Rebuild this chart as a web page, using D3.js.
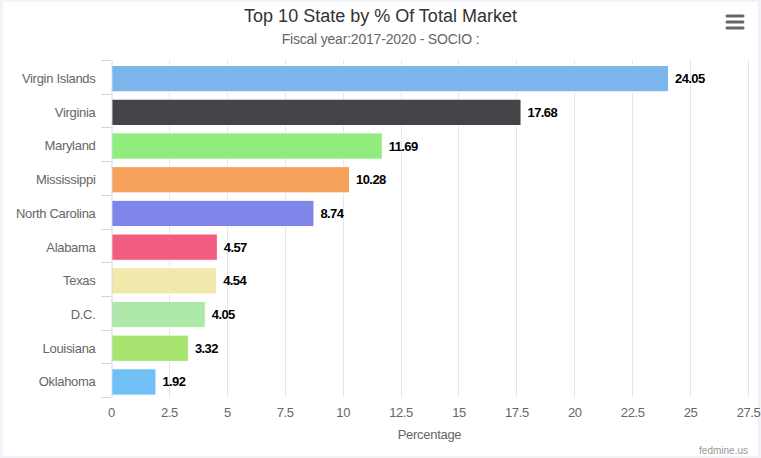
<!DOCTYPE html>
<html>
<head>
<meta charset="utf-8">
<script src="https://cdn.jsdelivr.net/npm/d3@7"></script>
<style>
  body { margin: 0; background: #fff; }
  svg { display: block; font-family: "Liberation Sans", Arial, sans-serif; }
</style>
</head>
<body>
<figure id="bar-chart" style="margin:0"></figure>
<script>
const states = ['Virgin Islands', 'Virginia', 'Maryland', 'Mississippi', 'North Carolina',
  'Alabama', 'Texas', 'D.C.', 'Louisiana', 'Oklahoma'];
const percents = [24.05, 17.68, 11.69, 10.28, 8.74, 4.57, 4.54, 4.05, 3.32, 1.92];
const barColors = ['#7cb5ec', '#434348', '#90ed7d', '#f7a35c', '#8085e9',
  '#f15c80', '#f1e9ac', '#ade8a8', '#a8e46f', '#70c0f5'];
const xTickValues = [0, 2.5, 5, 7.5, 10, 12.5, 15, 17.5, 20, 22.5, 25, 27.5];

const width = 761, height = 458;
const plot = { left: 111, right: 748, top: 60, bottom: 397 };

const svg = d3.select('figure#bar-chart')
  .append('svg')
  .attr('width', width)
  .attr('height', height);

// light frame round the chart
svg.append('rect')
  .attr('x', 1.5).attr('y', 0.5)
  .attr('width', width - 3).attr('height', height - 1)
  .attr('fill', '#fff')
  .attr('stroke', '#f2f3f7')
  .attr('stroke-width', 3);

const x = d3.scaleLinear().domain([0, 27.5]).range([plot.left, plot.right]);
const yBand = d3.scaleBand().domain(states).range([plot.top, plot.bottom]);
const barH = yBand.bandwidth() * 0.78;
const barY = d => yBand(d) + 5.5;

// title + subtitle
svg.append('text')
  .attr('x', width / 2).attr('y', 22)
  .attr('text-anchor', 'middle')
  .attr('font-size', 18).attr('fill', '#333')
  .text('Top 10 State by % Of Total Market');
svg.append('text')
  .attr('x', width / 2).attr('y', 44)
  .attr('text-anchor', 'middle')
  .attr('font-size', 14).attr('fill', '#666')
  .attr('letter-spacing', -0.2)
  .text('Fiscal year:2017-2020 - SOCIO :');

// menu icon
[16, 22, 28].forEach(yy => {
  svg.append('line')
    .attr('x1', 727).attr('x2', 743)
    .attr('y1', yy).attr('y2', yy)
    .attr('stroke', '#666').attr('stroke-width', 3)
    .attr('stroke-linecap', 'round');
});

// vertical grid
svg.append('g')
  .selectAll('line')
  .data(xTickValues.slice(1))
  .enter()
  .append('line')
  .attr('x1', d => Math.round(x(d)) + 0.5)
  .attr('x2', d => Math.round(x(d)) + 0.5)
  .attr('y1', plot.top)
  .attr('y2', plot.bottom)
  .attr('stroke', '#e6e6e6');

// bars
svg.selectAll('.bar')
  .data(states)
  .enter()
  .append('rect')
  .attr('class', 'bar')
  .attr('x', x(0) + 0.5)
  .attr('y', barY)
  .attr('width', (d, i) => x(percents[i]) - x(0))
  .attr('height', barH)
  .attr('fill', (d, i) => barColors[i])
  .attr('stroke', '#fff')
  .attr('stroke-width', 1);

// value labels
svg.selectAll('.value')
  .data(states)
  .enter()
  .append('text')
  .attr('class', 'value')
  .attr('x', (d, i) => x(percents[i]) + 7)
  .attr('y', d => barY(d) + barH / 2 + 4.5)
  .attr('font-size', 13).attr('font-weight', 'bold')
  .attr('letter-spacing', -0.6)
  .attr('fill', '#000')
  .text((d, i) => percents[i].toFixed(2));

// category axis
const yAxis = svg.append('g')
  .attr('transform', `translate(${plot.left + 0.5},2)`)
  .call(d3.axisLeft(yBand).tickSize(0).tickPadding(16));
yAxis.select('.domain').attr('stroke', '#ccd6eb').attr('transform', 'translate(0,-2)');
yAxis.selectAll('text')
  .attr('font-size', 13).attr('fill', '#666')
  .attr('font-family', '"Liberation Sans", Arial, sans-serif')
  .attr('letter-spacing', -0.3);
// tick marks on band edges
svg.append('g')
  .selectAll('line')
  .data(states.map(s => yBand(s)).concat([plot.bottom]))
  .enter()
  .append('line')
  .attr('x1', plot.left - 10)
  .attr('x2', plot.left)
  .attr('y1', d => Math.round(d) + 0.5)
  .attr('y2', d => Math.round(d) + 0.5)
  .attr('stroke', '#ccd6eb');

// value axis
const xAxis = svg.append('g')
  .attr('transform', `translate(0,${plot.bottom})`)
  .call(d3.axisBottom(x).tickValues(xTickValues).tickSize(0).tickPadding(11)
    .tickFormat(d3.format('')));
xAxis.select('.domain').remove();
xAxis.selectAll('text')
  .attr('font-size', 13).attr('fill', '#666')
  .attr('font-family', '"Liberation Sans", Arial, sans-serif')
  .attr('letter-spacing', -0.4);

svg.append('text')
  .attr('x', (plot.left + plot.right) / 2).attr('y', 439)
  .attr('text-anchor', 'middle')
  .attr('font-size', 13).attr('fill', '#666')
  .attr('letter-spacing', -0.3)
  .text('Percentage');

svg.append('text')
  .attr('x', 748).attr('y', 454)
  .attr('text-anchor', 'end')
  .attr('font-size', 10).attr('fill', '#999')
  .text('fedmine.us');
</script>
</body>
</html>
